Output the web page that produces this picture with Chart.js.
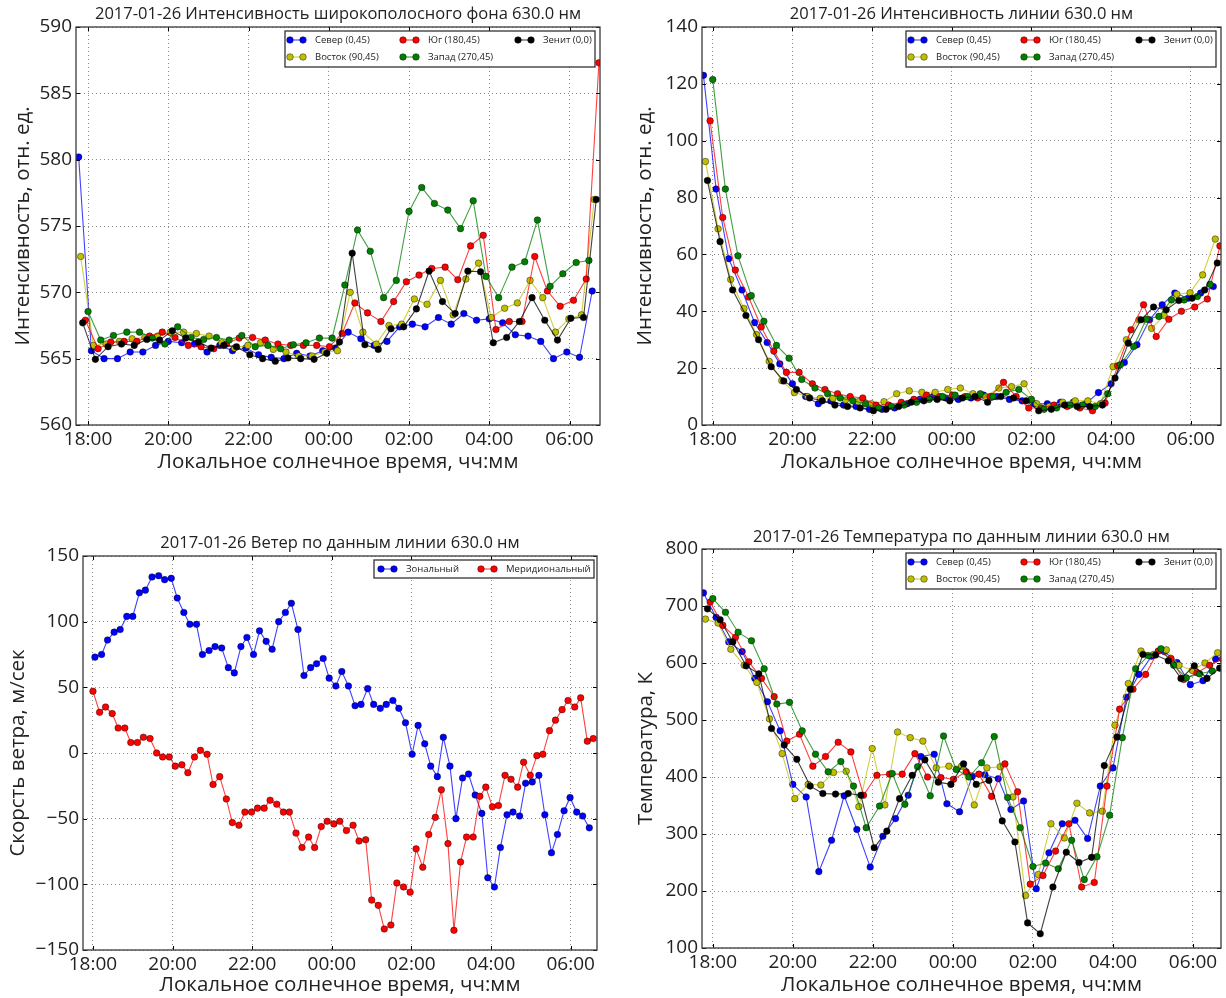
<!DOCTYPE html>
<html>
<head>
<meta charset="utf-8">
<script src="https://cdn.jsdelivr.net/npm/chart.js@4.4.1/dist/chart.umd.min.js"></script>
<style>
    html, body { margin: 0; padding: 0; background: #fff; }
    #wrap { position: relative; width: 1226px; height: 998px; }
    canvas { position: absolute; }
</style>
</head>
<body>
<div id="wrap">
    <canvas id="bg-chart" width="613" height="490" style="left:0;top:0"></canvas>
    <canvas id="line-chart" width="613" height="490" style="left:613px;top:0"></canvas>
    <canvas id="wind-chart" width="613" height="508" style="left:0;top:490px"></canvas>
    <canvas id="temp-chart" width="613" height="508" style="left:613px;top:490px"></canvas>
</div>
<script>
// measurement cycle times (Север), other directions are shifted by a few minutes
const cycleTimes = ["17:46","18:05","18:24","18:44","19:03","19:22","19:41","20:00","20:20","20:39",
    "20:58","21:17","21:36","21:56","22:15","22:34","22:53","23:12","23:32","23:51",
    "00:10","00:29","00:48","01:08","01:27","01:46","02:05","02:24","02:44","03:03",
    "03:22","03:41","04:00","04:20","04:39","04:58","05:17","05:36","05:56","06:15","06:34"];
const dirOffsetMin = { north: 0, east: 3, zenith: 6, south: 10, west: 14 };

const windTimes = ["18:00","18:10","18:19","18:29","18:38","18:48","18:57","19:07","19:16","19:26",
    "19:36","19:45","19:55","20:04","20:14","20:23","20:33","20:42","20:52","21:01",
    "21:11","21:21","21:30","21:40","21:49","21:59","22:08","22:18","22:27","22:37",
    "22:47","22:56","23:06","23:15","23:25","23:34","23:44","23:53","00:03","00:12",
    "00:22","00:32","00:41","00:51","01:00","01:10","01:19","01:29","01:38","01:48",
    "01:58","02:07","02:17","02:26","02:36","02:45","02:55","03:04","03:14","03:23",
    "03:33","03:43","03:52","04:02","04:11","04:21","04:30","04:40","04:49","04:59",
    "05:09","05:18","05:28","05:37","05:47","05:56","06:06","06:15","06:25","06:34"];
const zonalOffsetMin = 3;

const xTickHours = [18, 20, 22, 24, 26, 28, 30];

// Интенсивность широкополосного фона
const bgNorth = [580.2,565.6,565.0,565.0,565.5,565.5,566.0,566.3,566.2,566.1,565.5,566.0,565.6,565.8,565.3,565.1,565.0,565.4,565.2,565.6,
    565.8,567.0,566.5,566.0,566.3,567.4,567.6,567.4,568.1,567.6,568.4,567.9,568.0,567.7,566.8,566.7,566.3,565.0,565.5,565.1,570.1];
const bgEast = [572.7,566.0,566.1,566.3,566.5,566.6,566.7,567.0,567.0,566.9,566.7,566.2,565.8,566.0,566.2,565.7,565.5,565.2,565.2,565.5,
    565.6,570.0,567.0,566.1,567.5,567.6,569.5,569.1,570.9,568.3,571.0,572.2,568.1,568.8,569.2,570.9,569.6,567.0,568.0,568.3,577.0];
const bgSouth = [567.9,565.75,566.25,566.3,566.3,566.7,567.0,566.6,566.0,565.9,565.75,566.1,566.55,566.6,566.4,566.1,566.0,566.0,566.0,565.9,
    566.9,569.2,568.45,567.8,569.3,570.8,571.3,571.8,571.9,570.95,573.5,574.3,567.2,567.8,567.8,572.7,570.1,568.95,569.4,571.0,587.3];
const bgWest = [568.55,566.4,566.75,567.0,567.0,566.55,566.1,567.4,566.6,566.45,566.6,566.4,566.75,565.9,566.0,565.75,566.05,566.2,566.55,566.55,
    570.55,574.7,573.1,569.6,570.9,576.1,577.9,576.7,576.2,574.8,576.9,571.2,569.6,571.9,572.3,575.45,570.45,571.4,572.25,572.4];
const bgZenith = [567.7,564.95,565.9,566.1,566.0,566.45,566.4,567.1,566.55,566.25,565.8,566.0,565.9,565.3,565.0,564.8,565.05,565.0,564.95,565.4,
    566.25,572.95,566.05,565.7,567.25,567.4,568.75,571.6,569.3,568.4,571.6,571.55,566.2,566.6,567.8,569.6,567.9,566.4,568.05,568.1,577.0];

// Интенсивность линии
const lineNorth = [123,83,58.5,47.5,36,29,21.5,14.5,10,7.5,8.5,7,6.5,5.5,5.5,6,7.5,9,10,9.5,
    9,9.5,10.5,10,9,8.5,7.5,7.5,8,8,7.5,11.4,14.5,22,28.2,37,42.3,46.4,44.6,46.4,48.7];
const lineEast = [92.7,69,51.2,41,31.8,22.4,15.6,11.4,10,9.4,9.4,8.8,8.2,7.5,8.2,11,12,11.5,11.5,12.5,
    13,11,10,13,13.5,14.5,7.5,6.5,8,8.5,8.5,7.5,20.5,30,37,34,38.5,46,46.5,52.8,65.4];
const lineSouth = [107,73,54.5,45,34.5,26,18.5,18.5,14.5,12.5,11,10,9.5,7,7,8,9,10.5,10,10.5,
    10,9.5,10,15,10,6,6,7,6.5,6,5,7.7,20.8,33.5,42.3,31.1,37.2,40,41.5,44.3,63];
const lineWest = [121.5,83,59.5,45.5,36.5,28,23.5,16,13,11,9.5,8.5,7.5,6,6.5,7,8,9,10,10.5,
    10,11,10,11.5,12.5,9,5.5,6,7,7,6.5,11,21.2,27.6,37.2,38.2,44,44,45.2,49.5];
const lineZenith = [86,64.5,47.5,38.5,30,20.5,15.5,12.5,9.5,8.5,7,6.5,6,5,5.5,6.5,8,8.5,9,8.5,
    9.5,10,8,10,9.5,8.5,5,5.5,7,6.5,6.5,7,16.5,28.8,37,41.5,40.5,43.8,44.6,47.5,57];

// Ветер
const windZonal = [73,75,86,92,94,104,104,122,124,134,135,132,133,118,107,98,98,75,78,81,
    80,65,61,81,88,75,93,85,79,100,107,114,94,59,65,68,72,57,51,62,
    51,36,37,49,37,34,37,40,34,23,-1,21,7,-10,-18,12,-10,-50,-19,-16,
    -32,-46,-95,-102,-72,-47,-45,-48,-23,-22,-17,-47,-76,-62,-44,-34,-45,-48,-57];
const windMerid = [47,31,35,30,19,19,8,8,12,11,0,-3,-3,-10,-9,-15,-3,2,-1,-24,
    -18,-35,-53,-55,-45,-45,-42,-42,-36,-39,-45,-45,-61,-72,-64,-72,-56,-52,-54,-52,
    -59,-55,-67,-66,-112,-116,-134,-131,-99,-102,-106,-73,-87,-62,-49,-28,-69,-135,-83,-64,
    -64,-33,-26,-41,-40,-17,-20,-26,-7,-17,-2,-1,17,25,33,40,35,42,9,11];

// Температура
const tempNorth = [723,680,637,620,573,532,481,387,365,234,289,367,308,242,296,327,368,436,440,353,
    339,401,404,397,343,358,204,267,318,324,292,384,416,540,580,612,620,601,562,569,607];
const tempEast = [677,670,624,596,566,502,441,362,387,386,408,410,348,450,351,479,469,463,416,419,
    419,351,416,418,365,192,229,318,293,354,337,340,491,564,621,615,623,596,587,600,618];
const tempSouth = [707,666,645,602,573,541,463,475,419,436,461,444,368,403,405,405,441,400,399,396,
    409,405,366,423,374,212,227,270,318,207,215,384,519,554,580,621,608,571,583,596,607];
const tempWest = [713,689,654,639,590,528,531,481,440,409,427,384,311,349,406,352,418,367,472,413,
    400,425,471,364,311,243,249,239,289,220,260,333,469,590,613,625,596,574,581,586];
const tempZenith = [695,676,637,595,581,485,456,431,384,371,370,371,368,276,305,362,403,430,391,387,
    423,387,394,323,286,144,125,207,268,250,259,420,470,554,615,614,604,573,595,573,591];

const COLORS = { north: "#0000ff", east: "#bfbf00", south: "#ff0000", west: "#008000", zenith: "#000000" };
const LABELS = { north: "Север (0,45)", east: "Восток (90,45)", south: "Юг (180,45)", west: "Запад (270,45)", zenith: "Зенит (0,0)" };
const FONT = '"Open Sans", "DejaVu Sans", sans-serif';

function toHours(s) {
    const p = s.split(":");
    let v = Number(p[0]) + Number(p[1]) / 60;
    if (v < 12) v += 24;
    return v;
}

function fmtHour(v) {
    const h = Math.round(v) % 24;
    return (h < 10 ? "0" : "") + h + ":00";
}

function alpha(hex, a) {
    const n = parseInt(hex.slice(1), 16);
    return "rgba(" + (n >> 16) + "," + ((n >> 8) & 255) + "," + (n & 255) + "," + a + ")";
}

function series(label, color, times, values, offMin) {
    return {
        label: label,
        data: values.map(function (v, i) { return { x: toHours(times[i]) + offMin / 60, y: v }; }),
        borderColor: alpha(color, 0.75),
        backgroundColor: color,
        pointBackgroundColor: color,
        pointBorderColor: "rgba(0,0,0,0.7)",
        pointBorderWidth: 0.6,
        pointRadius: 3.3,
        borderWidth: 1.1,
        tension: 0
    };
}

function dirSets(vals) {
    // drawing order in Chart.js: index 0 on top
    return ["zenith", "west", "south", "east", "north"].map(function (k) {
        return series(LABELS[k], COLORS[k], cycleTimes, vals[k], dirOffsetMin[k]);
    });
}

const dirLegend = {
    width: 310, height: 36, right: 5, top: 4,
    items: [
        { label: LABELS.north, color: COLORS.north, dx: 0, dy: 9 },
        { label: LABELS.south, color: COLORS.south, dx: 113, dy: 9 },
        { label: LABELS.zenith, color: COLORS.zenith, dx: 228, dy: 9 },
        { label: LABELS.east, color: COLORS.east, dx: 0, dy: 26 },
        { label: LABELS.west, color: COLORS.west, dx: 113, dy: 26 }
    ]
};

const mplDecor = {
    id: "mplDecor",
    afterDraw: function (chart, args, o) {
        const ctx = chart.ctx;
        const a = chart.chartArea;
        const xs = chart.scales.x, ys = chart.scales.y;
        ctx.save();

        // inward ticks on all sides
        ctx.strokeStyle = "#000";
        ctx.lineWidth = 1;
        ctx.beginPath();
        xs.ticks.forEach(function (t) {
            const p = Math.round(xs.getPixelForValue(t.value)) + 0.5;
            ctx.moveTo(p, a.bottom); ctx.lineTo(p, a.bottom - 4);
            ctx.moveTo(p, a.top); ctx.lineTo(p, a.top + 4);
        });
        ys.ticks.forEach(function (t) {
            const p = Math.round(ys.getPixelForValue(t.value)) + 0.5;
            ctx.moveTo(a.left, p); ctx.lineTo(a.left + 4, p);
            ctx.moveTo(a.right, p); ctx.lineTo(a.right - 4, p);
        });
        ctx.stroke();

        ctx.strokeStyle = "#3a3a3a";
        ctx.lineWidth = 1.3;
        ctx.strokeRect(a.left, a.top, a.right - a.left, a.bottom - a.top);

        // titles
        ctx.fillStyle = "#222";
        ctx.textAlign = "center";
        ctx.textBaseline = "middle";
        ctx.font = "16.5px " + FONT;
        ctx.fillText(o.title, (a.left + a.right) / 2, a.top - o.titleGap);
        ctx.font = "20.5px " + FONT;
        ctx.fillText(o.xTitle, (a.left + a.right) / 2, a.bottom + o.xTitleGap);
        ctx.save();
        ctx.translate(a.left - o.yTitleGap, (a.top + a.bottom) / 2);
        ctx.rotate(-Math.PI / 2);
        ctx.fillText(o.yTitle, 0, 0);
        ctx.restore();

        // legend box
        const lg = o.legend;
        const L = a.right - lg.right - lg.width;
        const T = a.top + lg.top;
        ctx.fillStyle = "#fff";
        ctx.fillRect(L, T, lg.width, lg.height);
        ctx.strokeStyle = "#333";
        ctx.lineWidth = 1.3;
        ctx.strokeRect(L, T, lg.width, lg.height);
        ctx.font = "9.5px " + FONT;
        ctx.textAlign = "left";
        lg.items.forEach(function (it) {
            const x0 = L + it.dx + 5, x1 = L + it.dx + 18, y = T + it.dy;
            ctx.strokeStyle = alpha(it.color, 0.75);
            ctx.lineWidth = 1.1;
            ctx.beginPath(); ctx.moveTo(x0, y); ctx.lineTo(x1, y); ctx.stroke();
            [x0, x1].forEach(function (x) {
                ctx.beginPath();
                ctx.arc(x, y, 3.3, 0, Math.PI * 2);
                ctx.fillStyle = it.color; ctx.fill();
                ctx.strokeStyle = "rgba(0,0,0,0.7)"; ctx.lineWidth = 0.6; ctx.stroke();
            });
            ctx.fillStyle = "#222";
            ctx.fillText(it.label, L + it.dx + 30, y + 0.5);
        });
        ctx.restore();
    }
};

function makeChart(id, cfg) {
    const tickFont = { family: FONT, size: 19 };
    return new Chart(document.getElementById(id), {
        type: "line",
        data: { datasets: cfg.datasets },
        options: {
            responsive: false,
            animation: false,
            events: [],
            layout: { padding: { top: cfg.area.top, right: cfg.area.right, left: 0, bottom: 0 } },
            scales: {
                x: {
                    type: "linear",
                    min: cfg.xMin,
                    max: cfg.xMax,
                    afterBuildTicks: function (ax) { ax.ticks = xTickHours.map(function (v) { return { value: v }; }); },
                    afterFit: function (ax) { ax.height = cfg.area.xAxisH; },
                    grid: { color: "rgba(0,0,0,0.45)", lineWidth: 1, drawTicks: false },
                    border: { display: false, dash: [1, 3] },
                    ticks: { font: tickFont, color: "#222", padding: 3, maxRotation: 0, autoSkip: false,
                        callback: function (v) { return fmtHour(v); } }
                },
                y: {
                    min: cfg.yMin,
                    max: cfg.yMax,
                    afterFit: function (ax) { ax.width = cfg.area.left; },
                    grid: { color: "rgba(0,0,0,0.45)", lineWidth: 1, drawTicks: false },
                    border: { display: false, dash: [1, 3] },
                    ticks: { font: tickFont, color: "#222", padding: 4, stepSize: cfg.yStep,
                        callback: function (v) { return String(v).replace("-", "\u2212"); } }
                }
            },
            plugins: {
                legend: { display: false },
                tooltip: { enabled: false },
                mplDecor: cfg.decor
            }
        },
        plugins: [mplDecor]
    });
}

makeChart("bg-chart", {
    area: { left: 76, top: 27, right: 13, xAxisH: 65 },
    xMin: 17.7, xMax: 30.76, yMin: 560, yMax: 590, yStep: 5,
    datasets: dirSets({ north: bgNorth, east: bgEast, south: bgSouth, west: bgWest, zenith: bgZenith }),
    decor: {
        title: "2017-01-26 Интенсивность широкополосного фона 630.0 нм", titleGap: 13,
        xTitle: "Локальное солнечное время, чч:мм", xTitleGap: 37,
        yTitle: "Интенсивность, отн. ед.", yTitleGap: 53,
        legend: dirLegend
    }
});

makeChart("line-chart", {
    area: { left: 89, top: 27, right: 5, xAxisH: 65 },
    xMin: 17.73, xMax: 30.76, yMin: 0, yMax: 140, yStep: 20,
    datasets: dirSets({ north: lineNorth, east: lineEast, south: lineSouth, west: lineWest, zenith: lineZenith }),
    decor: {
        title: "2017-01-26 Интенсивность линии 630.0 нм", titleGap: 13,
        xTitle: "Локальное солнечное время, чч:мм", xTitleGap: 37,
        yTitle: "Интенсивность, отн. ед.", yTitleGap: 57,
        legend: dirLegend
    }
});

makeChart("wind-chart", {
    area: { left: 83, top: 66, right: 16, xAxisH: 48 },
    xMin: 17.75, xMax: 30.66, yMin: -150, yMax: 150, yStep: 50,
    datasets: [
        series("Меридиональный", COLORS.south, windTimes, windMerid, 0),
        series("Зональный", COLORS.north, windTimes, windZonal, zonalOffsetMin)
    ],
    decor: {
        title: "2017-01-26 Ветер по данным линии 630.0 нм", titleGap: 13,
        xTitle: "Локальное солнечное время, чч:мм", xTitleGap: 35,
        yTitle: "Скорсть ветра, м/сек", yTitleGap: 65,
        legend: {
            width: 220, height: 18, right: 3, top: 4,
            items: [
                { label: "Зональный", color: COLORS.north, dx: 2, dy: 9 },
                { label: "Меридиональный", color: COLORS.south, dx: 102, dy: 9 }
            ]
        }
    }
});

makeChart("temp-chart", {
    area: { left: 89, top: 59, right: 5, xAxisH: 50 },
    xMin: 17.73, xMax: 30.7, yMin: 100, yMax: 800, yStep: 100,
    datasets: dirSets({ north: tempNorth, east: tempEast, south: tempSouth, west: tempWest, zenith: tempZenith }),
    decor: {
        title: "2017-01-26 Температура по данным линии 630.0 нм", titleGap: 12,
        xTitle: "Локальное солнечное время, чч:мм", xTitleGap: 37,
        yTitle: "Температура, К", yTitleGap: 56,
        legend: dirLegend
    }
});
</script>
</body>
</html>
